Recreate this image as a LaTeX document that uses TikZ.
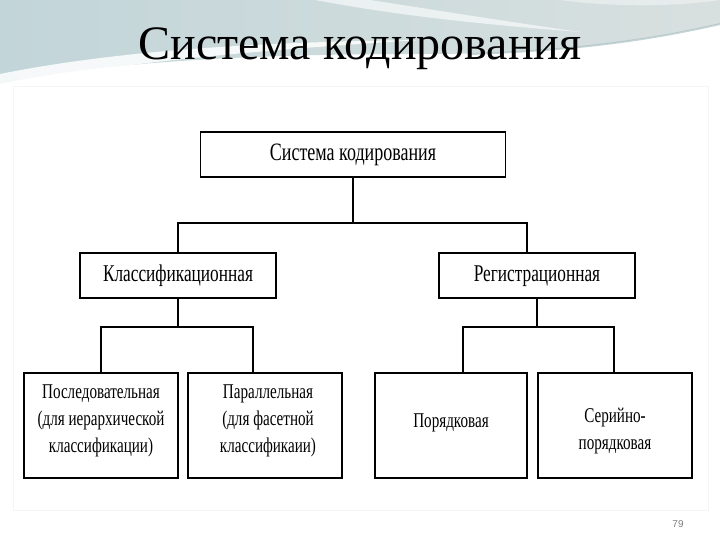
\documentclass[tikz,border=0pt]{standalone}
\usepackage{fontspec}
\newfontfamily\titlef{Liberation Serif}
\newfontfamily\boxf[FakeStretch=0.72]{Liberation Serif}
\newfontfamily\numf{Liberation Sans}
\definecolor{bandL}{HTML}{C2D5D9}
\definecolor{bandR}{HTML}{D8E0DF}
\definecolor{bandEdge}{HTML}{AFC3C6}
\tikzset{
  box/.style={draw, line width=1.7pt, fill=white, inner sep=0pt},
  conn/.style={draw, line width=1.8pt, line join=miter, line cap=rect},
  txt/.style={inner sep=0pt, align=center},
  bigtxt/.style={txt, font=\boxf\fontsize{25}{28}\selectfont},
  midtxt/.style={txt, font=\boxf\fontsize{24}{27}\selectfont},
  smalltxt/.style={txt, font=\boxf\fontsize{21}{27}\selectfont},
}
\begin{document}
\begin{tikzpicture}[x=1pt,y=-1pt]
\useasboundingbox (0,0) rectangle (720,540);
\fill[white] (0,0) rectangle (720,540);
% decorative band
\shade[left color=bandL, right color=bandR] (0,0) -- (720,0) -- (720,24)
  .. controls (620,46) and (540,54) .. (420,54)
  .. controls (250,54) and (100,62) .. (0,84) -- cycle;
\draw[bandEdge, line width=2pt, opacity=0.7] (470,54) .. controls (580,50) and (650,40) .. (720,24);
\fill[white, opacity=0.85] (0,74) .. controls (120,50) and (260,42) .. (420,40)
  .. controls (260,50) and (120,62) .. (0,86) -- cycle;
\fill[white, opacity=0.6] (315,0) .. controls (380,12) and (450,22) .. (580,32)
  .. controls (470,16) and (410,6) .. (370,0) -- cycle;
\fill[white, opacity=0.4] (560,0) .. controls (620,8) and (680,6) .. (720,0) -- cycle;
% image area
\draw[black!4, line width=0.8pt] (13,86) rectangle (708,510);
% title
\node[font=\titlef\fontsize{48}{54}\selectfont, anchor=base] (title) at (360,60) {Система кодирования};
% boxes
\node[box, minimum width=305, minimum height=45] (top) at (353,154.5) {};
\node[box, minimum width=196, minimum height=45] (klass) at (178,275.5) {};
\node[box, minimum width=196, minimum height=45] (reg) at (537,275.5) {};
\node[box, minimum width=154, minimum height=105] (b1) at (101,425.5) {};
\node[box, minimum width=154, minimum height=105] (b2) at (265,425.5) {};
\node[box, minimum width=152, minimum height=105] (b3) at (451,425.5) {};
\node[box, minimum width=154, minimum height=105] (b4) at (615,425.5) {};
% texts
\node[bigtxt] (topt) at (353,155) {Система кодирования};
\node[midtxt] (klasst) at (178,276) {Классификационная};
\node[midtxt] (regt) at (537,276) {Регистрационная};
\node[smalltxt] (b1t) at (101,421) {Последовательная\\(для иерархической\\классификации)};
\node[smalltxt] (b2t) at (268,421) {Параллельная\\(для фасетной\\классификаии)};
\node[smalltxt] (b3t) at (451,423) {Порядковая};
\node[smalltxt] (b4t) at (615,431) {Серийно-\\порядковая};
% connectors
\coordinate (hR) at (527,223);
\coordinate (lL1) at (101,327);
\coordinate (lL2) at (253,327);
\coordinate (lR1) at (463,327);
\coordinate (lR2) at (614,327);
\draw[conn] (top.south) -- (top.south |- hR);
\draw[conn] (klass.north) |- (hR) -- (reg.north -| hR);
\draw[conn] (klass.south) -- (klass.south |- lL1);
\draw[conn] (b1.north -| lL1) -- (lL1) -- (lL2) -- (b2.north -| lL2);
\draw[conn] (reg.south) -- (reg.south |- lR1);
\draw[conn] (b3.north -| lR1) -- (lR1) -- (lR2) -- (b4.north -| lR2);
% page number
\node[font=\numf\fontsize{10}{12}\selectfont, text=black!50] (pg) at (678,524) {79};
\end{tikzpicture}
\end{document}
